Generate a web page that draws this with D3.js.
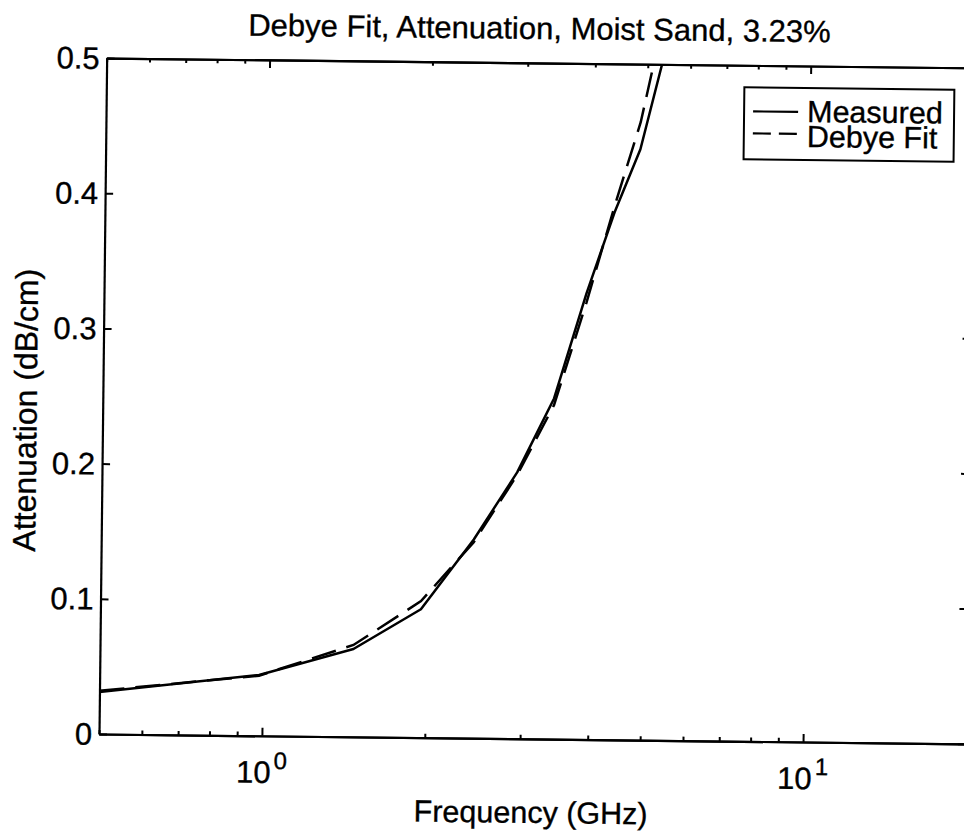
<!DOCTYPE html>
<html>
<head>
<meta charset="utf-8">
<script src="https://cdn.jsdelivr.net/npm/d3@7"></script>
<style>
  html, body { margin: 0; padding: 0; background: #fff; }
  svg { display: block; }
  text { font-family: Arial, "Liberation Sans", Helvetica, sans-serif; fill: #000; stroke: #000; stroke-width: 0.35px; }
</style>
</head>
<body>
<svg id="chart" width="964" height="839"></svg>
<script>
// ---------------- data ----------------
const chartTitle = "Debye Fit, Attenuation, Moist Sand, 3.23%";
const xAxisLabel = "Frequency (GHz)";
const yAxisLabel = "Attenuation (dB/cm)";
const seriesNames = ["Measured", "Debye Fit"];
const frequency = [0.5, 0.985, 1.47, 1.955, 2.44, 2.925, 3.41, 3.895, 4.38, 4.865, 5.35];
const measured  = [0.031, 0.045, 0.065, 0.095, 0.147, 0.197, 0.252, 0.330, 0.391, 0.437, 0.505];
const debyeFit  = [0.032, 0.0445, 0.068, 0.101, 0.145, 0.195, 0.247, 0.323, 0.396, 0.457, 0.535];
const xDomain = [0.5, 20];
const yDomain = [0, 0.5];
const yTickValues = [0, 0.1, 0.2, 0.3, 0.4, 0.5];
const yTickLabels = ["0", "0.1", "0.2", "0.3", "0.4", "0.5"];
const xMajorTickValues = [1, 10];
const xTickBase = ["10", "10"];
const xTickExponent = ["0", "1"];

// ---------------- layout ----------------
const mLeft = 99, mTop = 58, plotW = 867, plotH = 676;
const tilt = 0.65; // scanned page tilt (degrees)

const svg = d3.select("#chart");
const root = svg.append("g")
  .attr("transform", `rotate(${tilt}, ${mLeft}, ${mTop + plotH})`);

const x = d3.scaleLog().domain(xDomain).range([0, plotW]);
const y = d3.scaleLinear().domain(yDomain).range([plotH, 0]);

const plot = root.append("g").attr("transform", `translate(${mLeft},${mTop})`);

plot.append("clipPath").attr("id", "clip")
  .append("rect").attr("x", 0).attr("y", 0).attr("width", plotW).attr("height", plotH);

// ---------------- data lines ----------------
const lineGen = d3.line()
  .x(d => x(d[0]))
  .y(d => y(d[1]));

const measPts = frequency.map((f, i) => [f, measured[i]]);
const fitPts = frequency.map((f, i) => [f, debyeFit[i]]);

const lines = plot.append("g").attr("clip-path", "url(#clip)");
lines.append("path")
  .datum(fitPts)
  .attr("d", lineGen)
  .attr("fill", "none")
  .attr("stroke", "#000")
  .attr("stroke-width", 2.5)
  .attr("stroke-dasharray", "25,11");
lines.append("path")
  .datum(measPts)
  .attr("d", lineGen)
  .attr("fill", "none")
  .attr("stroke", "#000")
  .attr("stroke-width", 2.5)
  .attr("stroke-linejoin", "round");

// ---------------- axes ----------------
const minorX = x.ticks().filter(v => !xMajorTickValues.some(m => Math.abs(m - v) < 1e-9));

function styleAxis(g) {
  g.selectAll("path.domain").attr("stroke", "#000").attr("stroke-width", 2.2);
  g.selectAll(".tick line").attr("stroke", "#000").attr("stroke-width", 2);
  g.selectAll(".tick text").remove();
}

// bottom
plot.append("g").attr("transform", `translate(0,${plotH})`)
  .call(d3.axisBottom(x).tickValues(xMajorTickValues).tickSizeInner(-8).tickSizeOuter(0).tickFormat(""))
  .call(styleAxis);
plot.append("g").attr("transform", `translate(0,${plotH})`)
  .call(d3.axisBottom(x).tickValues(minorX).tickSizeInner(-4).tickSizeOuter(0).tickFormat(""))
  .call(styleAxis);
// top
plot.append("g")
  .call(d3.axisTop(x).tickValues(xMajorTickValues).tickSizeInner(-8).tickSizeOuter(0).tickFormat(""))
  .call(styleAxis);
plot.append("g")
  .call(d3.axisTop(x).tickValues(minorX).tickSizeInner(-4).tickSizeOuter(0).tickFormat(""))
  .call(styleAxis);
// left
plot.append("g")
  .call(d3.axisLeft(y).tickValues(yTickValues).tickSizeInner(-8).tickSizeOuter(0).tickFormat(""))
  .call(styleAxis);
// right
plot.append("g").attr("transform", `translate(${plotW},0)`)
  .call(d3.axisRight(y).tickValues(yTickValues).tickSizeInner(-8).tickSizeOuter(0).tickFormat(""))
  .call(styleAxis);

// y tick labels
plot.append("g").selectAll("text")
  .data(yTickValues)
  .join("text")
  .attr("x", -7)
  .attr("y", d => y(d))
  .attr("dy", "0.35em")
  .attr("text-anchor", "end")
  .attr("font-size", 31)
  .text((d, i) => yTickLabels[i]);

// x tick labels (10^n)
const xt = plot.append("g").selectAll("text")
  .data(xMajorTickValues)
  .join("text")
  .attr("x", d => x(d))
  .attr("y", plotH + 47)
  .attr("text-anchor", "middle")
  .attr("font-size", 31);
xt.append("tspan").text((d, i) => xTickBase[i]);
xt.append("tspan").attr("dy", -14).attr("dx", 3).attr("font-size", 24).text((d, i) => xTickExponent[i]);

// ---------------- titles ----------------
root.append("text")
  .attr("x", mLeft + plotW / 2 - 1)
  .attr("y", 34)
  .attr("text-anchor", "middle")
  .attr("font-size", 31)
  .text(chartTitle);

root.append("text")
  .attr("x", mLeft + plotW / 2 - 1)
  .attr("y", 818)
  .attr("text-anchor", "middle")
  .attr("font-size", 30.5)
  .text(xAxisLabel);

root.append("text")
  .attr("transform", `translate(33, 411) rotate(-90)`)
  .attr("text-anchor", "middle")
  .attr("font-size", 32)
  .text(yAxisLabel);

// ---------------- legend ----------------
const lg = root.append("g").attr("transform", "translate(737,80)");
lg.append("rect")
  .attr("x", 0).attr("y", 0).attr("width", 210).attr("height", 72)
  .attr("fill", "#fff").attr("stroke", "#000").attr("stroke-width", 2);
const legendRows = [
  { name: seriesNames[0], dash: null, ly: 24, ty: 34 },
  { name: seriesNames[1], dash: "18,8", ly: 46, ty: 59 }
];
legendRows.forEach(r => {
  const ln = lg.append("line")
    .attr("x1", 9).attr("x2", 54).attr("y1", r.ly).attr("y2", r.ly)
    .attr("stroke", "#000").attr("stroke-width", 2.2);
  if (r.dash) ln.attr("stroke-dasharray", r.dash);
  lg.append("text")
    .attr("x", 63).attr("y", r.ty)
    .attr("font-size", 30.5)
    .text(r.name);
});
</script>
</body>
</html>
